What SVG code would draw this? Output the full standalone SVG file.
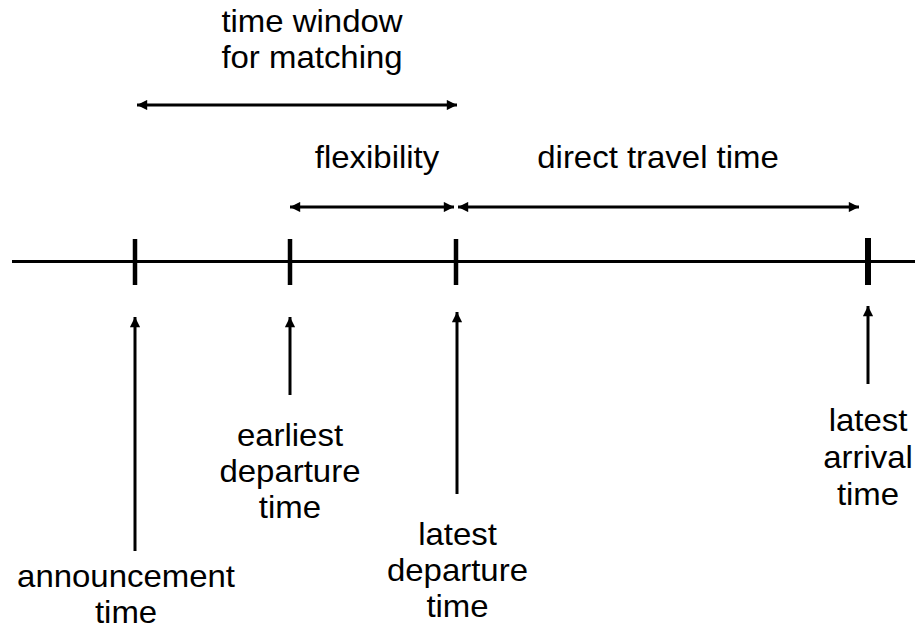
<svg xmlns="http://www.w3.org/2000/svg" width="915" height="634" viewBox="0 0 915 634">
<style>
.ln{stroke:#000;stroke-width:3;fill:none}
.tk{stroke:#000;stroke-width:4.5}
text{font-family:"Liberation Sans",Arial,sans-serif;font-size:30.5px;fill:#000;text-anchor:middle}
</style>
<defs>
<marker id="ah" viewBox="0 0 10 10" refX="10" refY="5" markerWidth="4" markerHeight="3.4" markerUnits="strokeWidth" orient="auto-start-reverse">
<path d="M0,0 L10,5 L0,10 z" fill="#000"/>
</marker>
</defs>
<rect width="915" height="634" fill="#fff"/>
<g id="timeline">
<line class="ln" x1="12" y1="261.5" x2="915" y2="261.5"/>
<line class="tk" x1="135" y1="239" x2="135" y2="285"/>
<line class="tk" x1="290" y1="239" x2="290" y2="285"/>
<line class="tk" x1="456" y1="239" x2="456" y2="285"/>
<line class="tk" x1="868" y1="238" x2="868" y2="285" style="stroke-width:6"/>
</g>
<g id="connectors">
<line class="ln" x1="137" y1="105" x2="457" y2="105" marker-start="url(#ah)" marker-end="url(#ah)"/>
<line class="ln" x1="290" y1="207" x2="454" y2="207" marker-start="url(#ah)" marker-end="url(#ah)"/>
<line class="ln" x1="458" y1="207" x2="859" y2="207" marker-start="url(#ah)" marker-end="url(#ah)"/>
<line class="ln" x1="135" y1="551" x2="135" y2="317" marker-end="url(#ah)"/>
<line class="ln" x1="290" y1="395" x2="290" y2="317" marker-end="url(#ah)"/>
<line class="ln" x1="457" y1="494" x2="457" y2="312" marker-end="url(#ah)"/>
<line class="ln" x1="868" y1="384" x2="868" y2="306" marker-end="url(#ah)"/>
</g>
<g transform="scale(1.08,1)">
<g id="label-time-window"><text x="288.9" y="32">time window</text><text x="288.9" y="68">for matching</text></g>
<g id="label-flexibility"><text x="349.1" y="168">flexibility</text></g>
<g id="label-direct-travel"><text x="609.3" y="168">direct travel time</text></g>
<g id="label-earliest"><text x="268.5" y="446">earliest</text><text x="268.5" y="482">departure</text><text x="268.5" y="518">time</text></g>
<g id="label-announcement"><text x="116.7" y="587">announcement</text><text x="116.7" y="623">time</text></g>
<g id="label-latest-departure"><text x="423.6" y="545">latest</text><text x="423.6" y="581">departure</text><text x="423.6" y="617">time</text></g>
<g id="label-latest-arrival"><text x="803.7" y="431">latest</text><text x="803.7" y="468">arrival</text><text x="803.7" y="505">time</text></g>
</g>
</svg>
